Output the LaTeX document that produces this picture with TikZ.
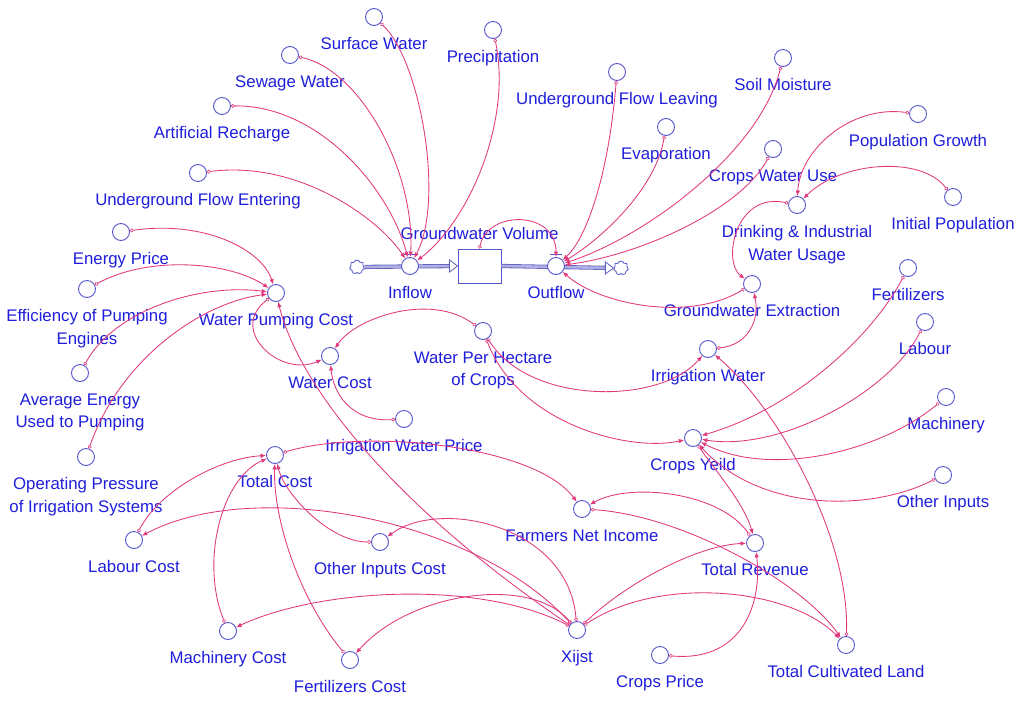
\documentclass[tikz,border=0pt]{standalone}
\usepackage{fontspec}
\setmainfont{Liberation Sans}
\usetikzlibrary{arrows.meta,shapes.symbols}
\definecolor{txt}{RGB}{30,30,220}
\definecolor{circ}{RGB}{85,85,205}
\definecolor{lnk}{RGB}{225,55,125}
\definecolor{pipe}{RGB}{95,95,190}
\definecolor{pipein}{RGB}{175,175,230}
\begin{document}
\begin{tikzpicture}[x=1pt,y=-1pt,
  var/.style={circle,draw=circ,line width=0.9pt,minimum size=17pt,inner sep=0pt,fill=white},
  lab/.style={text=txt,font=\fontsize{16.8}{22.5}\selectfont,inner sep=0pt,align=center},
  every label/.style={lab},
  label distance=11.5pt,
  link/.style={draw=lnk,line width=0.85pt,{Circle[open,length=3.8pt,width=3.8pt,line width=0.6pt]}-{Latex[length=5.5pt,width=4.5pt]}},
  pipeline/.style={draw=pipe,double=pipein,double distance=2.6pt,line width=0.8pt},
  cloudshape/.style={cloud,cloud puffs=7,draw=circ,line width=0.8pt,minimum width=15pt,minimum height=14pt,inner sep=0pt,fill=white},
]
\useasboundingbox (0,0) rectangle (1024,704);

% ---------- stock and flows ----------
\node[cloudshape] (cl1) at (357,267) {};
\node[cloudshape] (cl2) at (621,268) {};
\node[draw=circ,line width=0.9pt,minimum width=43pt,minimum height=34pt,inner sep=0pt,
      label={[label distance=9pt]above:Groundwater Volume}] (stock) at (479.5,266) {};
\draw[pipeline,shorten >=8pt] (cl1) -- (stock.west);
\draw[draw=pipe,fill=white,line width=0.8pt] ([xshift=-8pt,yshift=-6pt]stock.west) -- (stock.west) -- ([xshift=-8pt,yshift=6pt]stock.west) -- cycle;
\draw[pipeline,shorten >=8pt] (stock.east) -- (cl2.west);
\draw[draw=pipe,fill=white,line width=0.8pt] ([xshift=-8pt,yshift=-6pt]cl2.west) -- (cl2.west) -- ([xshift=-8pt,yshift=6pt]cl2.west) -- cycle;
\node[var,label={below:Inflow}] (inflow) at (410,266) {};
\node[var,label={below:Outflow}] (outflow) at (556,266) {};
\draw[draw=circ,line width=0.8pt] ([xshift=-6pt,yshift=12pt]inflow.center) -- ([xshift=6pt,yshift=12pt]inflow.center);
\draw[draw=circ,line width=0.8pt] ([xshift=-6pt,yshift=12pt]outflow.center) -- ([xshift=6pt,yshift=12pt]outflow.center);

% ---------- variables ----------
\node[var,label={below:Surface Water}] (sw) at (374,17) {};
\node[var,label={below:Precipitation}] (pr) at (493,30) {};
\node[var,label={below:Sewage Water}] (sew) at (290,55) {};
\node[var,label={below:Artificial Recharge}] (ar) at (222,106) {};
\node[var,label={below:Underground Flow Entering}] (ufe) at (198,173) {};
\node[var,label={below:Energy Price}] (ep) at (121,232) {};
\node[var,label={below:{Efficiency of Pumping\\Engines}}] (eff) at (87,289) {};
\node[var,label={below:{Average Energy\\Used to Pumping}}] (ae) at (80,373) {};
\node[var,label={below:{Operating Pressure\\of Irrigation Systems}}] (op) at (86,457) {};
\node[var,label={below:Water Pumping Cost}] (wpc) at (276,293) {};
\node[var,label={below:Water Cost}] (wc) at (330,356) {};
\node[var,label={below:Irrigation Water Price}] (iwp) at (404,419) {};
\node[var,label={below:{Water Per Hectare\\of Crops}}] (wph) at (483,331) {};
\node[var,label={below:Total Cost}] (tc) at (275,455) {};
\node[var,label={below:Labour Cost}] (lc) at (134,540) {};
\node[var,label={below:Other Inputs Cost}] (oic) at (380,542) {};
\node[var,label={below:Machinery Cost}] (mc) at (228,631) {};
\node[var,label={below:Fertilizers Cost}] (fc) at (350,660) {};
\node[var,label={below:Xijst}] (x) at (577,630) {};
\node[var,label={below:Crops Price}] (cp) at (660,655) {};
\node[var,label={below:Total Cultivated Land}] (tcl) at (846,645) {};
\node[var,label={below:Total Revenue}] (tr) at (755,543) {};
\node[var,label={below:Farmers Net Income}] (fni) at (582,509) {};
\node[var,label={below:Crops Yeild}] (cy) at (693,438) {};
\node[var,label={below:Irrigation Water}] (iw) at (708,349) {};
\node[var,label={below:Groundwater Extraction}] (ge) at (752,284) {};
\node[var,label={below:{Drinking \& Industrial\\Water Usage}}] (diw) at (797,205) {};
\node[var,label={below:Population Growth}] (pg) at (918,114) {};
\node[var,label={below:Initial Population}] (ip) at (953,197) {};
\node[var,label={below:Crops Water Use}] (cwu) at (773,149) {};
\node[var,label={below:Soil Moisture}] (sm) at (783,58) {};
\node[var,label={below:Evaporation}] (ev) at (666,127) {};
\node[var,label={below:Underground Flow Leaving}] (ufl) at (617,72) {};
\node[var,label={below:Fertilizers}] (fe) at (908,268) {};
\node[var,label={below:Labour}] (la) at (925,322) {};
\node[var,label={below:Machinery}] (ma) at (946,397) {};
\node[var,label={below:Other Inputs}] (oi) at (943,475) {};

% ---------- links into inflow ----------
\draw[link] (sw) .. controls (420,60) and (445,200) .. (inflow);
\draw[link] (pr) .. controls (512,120) and (470,220) .. (inflow);
\draw[link] (sew) .. controls (360,70) and (415,170) .. (inflow);
\draw[link] (ar) .. controls (320,105) and (390,190) .. (inflow);
\draw[link] (ufe) .. controls (300,160) and (380,220) .. (inflow);

% ---------- links into outflow ----------
\draw[link] (stock.north) .. controls (488,210) and (556,210) .. (outflow);
\draw[link] (ufl) .. controls (608,180) and (585,240) .. (outflow);
\draw[link] (ev) .. controls (655,190) and (600,240) .. (outflow);
\draw[link] (sm) .. controls (760,150) and (650,235) .. (outflow);
\draw[link] (cwu) .. controls (740,210) and (640,255) .. (outflow);
\draw[link] (ge) .. controls (690,322) and (600,305) .. (outflow);

% ---------- extraction ----------
\draw[link] (diw) .. controls (735,192) and (722,262) .. (ge);
\draw[link] (pg) .. controls (850,105) and (800,150) .. (diw);
\draw[link] (ip) .. controls (920,155) and (840,162) .. (diw);
\draw[link] (iw) .. controls (748,345) and (760,320) .. (ge);
\draw[link] (wph) .. controls (530,405) and (660,405) .. (iw);
\draw[link] (tcl) .. controls (850,540) and (780,410) .. (iw);

% ---------- water cost ----------
\draw[link] (wph) .. controls (430,292) and (355,318) .. (wc);
\draw[link] (iwp) .. controls (350,422) and (333,392) .. (wc);
\draw[link] (wpc) .. controls (228,330) and (280,378) .. (wc);
\draw[link] (ep) .. controls (205,220) and (262,250) .. (wpc);
\draw[link] (eff) .. controls (150,255) and (230,262) .. (wpc);
\draw[link] (ae) .. controls (115,310) and (200,283) .. (wpc);
\draw[link] (op) .. controls (120,360) and (200,303) .. (wpc);
\draw[link] (x) .. controls (400,510) and (300,390) .. (wpc);

% ---------- costs ----------
\draw[link] (tc) .. controls (365,428) and (535,445) .. (fni);
\draw[link] (lc) .. controls (160,490) and (220,458) .. (tc);
\draw[link] (mc) .. controls (200,560) and (222,478) .. (tc);
\draw[link] (fc) .. controls (300,600) and (273,520) .. (tc);
\draw[link] (oic) .. controls (330,542) and (285,495) .. (tc);
\draw[link] (x) .. controls (470,515) and (250,478) .. (lc);
\draw[link] (x) .. controls (480,580) and (320,588) .. (mc);
\draw[link] (x) .. controls (530,575) and (410,592) .. (fc);
\draw[link] (x) .. controls (568,525) and (440,498) .. (oic);

% ---------- revenue ----------
\draw[link] (x) .. controls (630,580) and (700,545) .. (tr);
\draw[link] (x) .. controls (660,575) and (790,588) .. (tcl);
\draw[link] (cp) .. controls (745,662) and (762,600) .. (tr);
\draw[link] (cy) .. controls (715,470) and (745,505) .. (tr);
\draw[link] (tr) .. controls (720,492) and (630,482) .. (fni);
\draw[link] (fni) .. controls (680,515) and (800,580) .. (tcl);

% ---------- crops yield ----------
\draw[link] (wph) .. controls (520,425) and (630,452) .. (cy);
\draw[link] (fe) .. controls (870,340) and (790,410) .. (cy);
\draw[link] (la) .. controls (890,392) and (780,452) .. (cy);
\draw[link] (ma) .. controls (880,452) and (770,478) .. (cy);
\draw[link] (oi) .. controls (870,512) and (760,512) .. (cy);
\end{tikzpicture}
\end{document}
